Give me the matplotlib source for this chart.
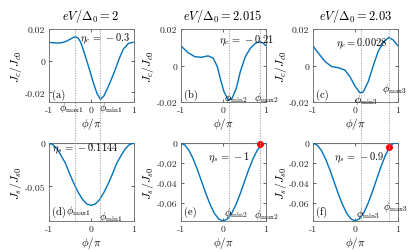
import numpy as np
import matplotlib
matplotlib.use("Agg")
import matplotlib.pyplot as plt
from matplotlib.lines import Line2D

plt.rcParams['mathtext.fontset'] = 'cm'
plt.rcParams['font.family'] = ['cmr10', 'DejaVu Serif']
plt.rcParams['axes.unicode_minus'] = False

# ---------------- data ----------------
titles = [r"$eV/\Delta_0 = 2$", r"$eV/\Delta_0 = 2.015$", r"$eV/\Delta_0 = 2.03$"]
eta_c = [r"$\eta_c\,=\,-0.3$", r"$\eta_c\,=\,-0.21$", r"$\eta_c = 0.0028$"]
eta_s = [r"$\eta_s\,=\,-0.1144$", r"$\eta_s\,=\,-1$", r"$\eta_s\,=\,-0.9$"]
panel_top = ["(a)", "(b)", "(c)"]
panel_bot = ["(d)", "(e)", "(f)"]

phi_a = [-1, -0.9, -0.8, -0.7, -0.6, -0.5, -0.42, -0.36, -0.3, -0.24, -0.18, -0.1, -0.02, 0.06, 0.14,
         0.22, 0.3, 0.37, 0.47, 0.57, 0.66, 0.76, 0.88, 1]
jc_a = [0.0117, 0.0114, 0.0112, 0.0114, 0.0121, 0.0135, 0.0147, 0.0152, 0.0142, 0.0114, 0.0066, -0.0001,
        -0.0072, -0.0145, -0.0207, -0.0243, -0.0222, -0.0183, -0.0121, -0.0054, 0.0013, 0.0075, 0.0110,
        0.0117]

phi_b = [-1, -0.825, -0.667, -0.508, -0.42, -0.35, -0.23, -0.135, -0.056, 0.024, 0.127, 0.206, 0.31,
         0.405, 0.524, 0.643, 0.762, 0.865, 0.944, 1]
jc_b = [0.0110, 0.0071, 0.0049, 0.0045, 0.0050, 0.0053, 0.0040, -0.0006, -0.0080, -0.0145, -0.0191,
        -0.0182, -0.0126, -0.0034, 0.0049, 0.0095, 0.0123, 0.0130, 0.0123, 0.0110]

phi_c = [-1, -0.868, -0.712, -0.556, -0.401, -0.245, -0.128, -0.01, 0.105, 0.183, 0.3, 0.416, 0.533,
         0.65, 0.782, 0.883, 1]
jc_c = [0.0108, 0.0067, 0.0021, -0.0006, -0.0012, -0.0025, -0.0062, -0.0113, -0.0150, -0.0145, -0.0089,
        -0.0003, 0.0077, 0.0126, 0.0154, 0.0141, 0.0108]

phi_s = [-1, -0.9, -0.8, -0.7, -0.6, -0.5, -0.4, -0.3, -0.2, -0.1, 0, 0.1, 0.2, 0.3, 0.4, 0.5, 0.6, 0.7,
         0.8, 0.9, 1]
js_d = [0, -0.0017, -0.0068, -0.0148, -0.0236, -0.036, -0.0472, -0.0572, -0.0652, -0.0703, -0.072,
        -0.0703, -0.0652, -0.0572, -0.0472, -0.036, -0.0236, -0.0148, -0.0068, -0.0017, 0]
js_e = [0, -0.0019, -0.0074, -0.0161, -0.0269, -0.039, -0.0511, -0.0619, -0.0706, -0.0761, -0.078,
        -0.0761, -0.0706, -0.0619, -0.0511, -0.039, -0.0269, -0.0161, -0.0074, -0.0019, 0]
js_f = [0, -0.0019, -0.0074, -0.0161, -0.0269, -0.039, -0.0511, -0.0619, -0.0706, -0.0761, -0.078,
        -0.0755, -0.0695, -0.0600, -0.0485, -0.0360, -0.0236, -0.0128, -0.0040, 0.0000, 0]

phi_max = [-0.37, 0.86, 0.80]
phi_min = [0.22, 0.14, 0.13]
red_dot_e = (0.86, -0.0005)
red_dot_f = (0.80, -0.0037)

jc_ylims = [(-0.026, 0.02), (-0.02, 0.02), (-0.02, 0.02)]
js_ylims = [(-0.09, 0), (-0.078, 0), (-0.078, 0)]
js_yticks = [[-0.05, 0], [-0.06, -0.04, -0.02, 0], [-0.06, -0.04, -0.02, 0]]
js_ylabels = [["-0.05", "0"], ["-0.06", "-0.04", "-0.02", "0"], ["-0.06", "-0.04", "-0.02", "0"]]

# ---------------- figure ----------------
fig = plt.figure(figsize=(4.15, 2.53), dpi=100)
blue = '#0072BD'
lefts = [0.117, 0.435, 0.754]
w = 0.205
top_ax = [fig.add_axes([l, 0.593, w, 0.288]) for l in lefts]
bot_ax = [fig.add_axes([l, 0.1225, w, 0.308]) for l in lefts]

tfs = 7
def style(ax):
    for s in ax.spines.values():
        s.set_color('#666666')
        s.set_linewidth(0.6)
    ax.tick_params(direction='in', length=2, width=0.5, labelsize=tfs, pad=2.5, colors='#262626',
                   top=True, right=True)
    ax.set_xlim(-1, 1)
    ax.set_xticks([-1, 0, 1])
    ax.set_xticklabels(["-1", "0", "1"])
    ax.set_xlabel(r"$\phi/\pi$", fontsize=8, labelpad=1)

curves_c = [(phi_a, jc_a), (phi_b, jc_b), (phi_c, jc_c)]
curves_s = [js_d, js_e, js_f]

for i in range(3):
    ax = top_ax[i]
    style(ax)
    ax.plot(*curves_c[i], color=blue, lw=1.0)
    ax.set_ylim(*jc_ylims[i])
    ax.set_yticks([-0.02, 0, 0.02])
    ax.set_yticklabels(["-0.02", "0", "0.02"])
    ax.set_ylabel(r"$J_c/J_{c0}$", fontsize=8.5, labelpad=0)
    ax.set_title(titles[i], fontsize=9, pad=7)

    bx = bot_ax[i]
    style(bx)
    bx.axhline(0, color='#b0b0b0', lw=1.6, zorder=1)
    bx.plot(phi_s, curves_s[i], color=blue, lw=1.0, zorder=3)
    bx.set_ylim(*js_ylims[i])
    bx.set_yticks(js_yticks[i])
    bx.set_yticklabels(js_ylabels[i])
    bx.set_ylabel(r"$J_s/J_{s0}$", fontsize=8.5, labelpad=0)

# red dots
bot_ax[1].plot(*red_dot_e, 'o', color='red', ms=4, zorder=5, clip_on=False)
bot_ax[2].plot(*red_dot_f, 'o', color='red', ms=4, zorder=5, clip_on=False)

# dotted vertical lines spanning both rows
fig.canvas.draw()
for i in range(3):
    for p in (phi_max[i], phi_min[i]):
        x_fig = fig.transFigure.inverted().transform(top_ax[i].transData.transform((p, 0)))[0]
        y_top = top_ax[i].get_position().y1
        y_bot = bot_ax[i].get_position().y0
        fig.add_artist(Line2D([x_fig, x_fig], [y_bot, y_top], transform=fig.transFigure,
                              color='#999999', lw=0.6, ls=(0, (1.5, 1.5)), zorder=5))

fs = 7.5
# eta texts
top_ax[0].text(-0.27, 0.0145, eta_c[0], fontsize=fs, va='center')
top_ax[1].text(-0.1, 0.0139, eta_c[1], fontsize=fs, va='center')
top_ax[2].text(-0.45, 0.0125, eta_c[2], fontsize=fs, va='center')
bot_ax[0].text(-0.93, -0.006, eta_s[0], fontsize=fs, va='center')
bot_ax[1].text(-0.35, -0.0135, eta_s[1], fontsize=fs, va='center')
bot_ax[2].text(-0.5, -0.0135, eta_s[2], fontsize=fs, va='center')

# panel labels
for i in range(3):
    top_ax[i].text(0.04, 0.1, panel_top[i], transform=top_ax[i].transAxes, fontsize=fs, va='center')
    bot_ax[i].text(0.04, 0.12, panel_bot[i], transform=bot_ax[i].transAxes, fontsize=fs, va='center')

# phi labels (x in data, y in axes fraction)
def plab(ax, x, yf, s):
    ax.text(x, yf, s, fontsize=fs, ha='center', va='center', clip_on=False,
            transform=ax.get_xaxis_transform())

ta = top_ax
plab(ta[0], -0.45, -0.075, r"$\phi_{\rm max1}$")
plab(ta[0], 0.47, -0.075, r"$\phi_{\rm min1}$")
plab(ta[1], 0.3, 0.07, r"$\phi_{\rm min2}$")
plab(ta[1], 1.03, 0.07, r"$\phi_{\rm max2}$")
plab(ta[2], 0.25, 0.04, r"$\phi_{\rm min3}$")
plab(ta[2], 0.92, 0.19, r"$\phi_{\rm max3}$")

ba = bot_ax
plab(ba[0], -0.3, 0.14, r"$\phi_{\rm max1}$")
plab(ba[0], 0.47, 0.07, r"$\phi_{\rm min1}$")
plab(ba[1], 0.3, 0.11, r"$\phi_{\rm min2}$")
plab(ba[1], 1.03, 0.085, r"$\phi_{\rm max2}$")
plab(ba[2], 0.3, 0.10, r"$\phi_{\rm min3}$")
plab(ba[2], 0.94, 0.19, r"$\phi_{\rm max3}$")

fig.savefig("out.png", dpi=100)
